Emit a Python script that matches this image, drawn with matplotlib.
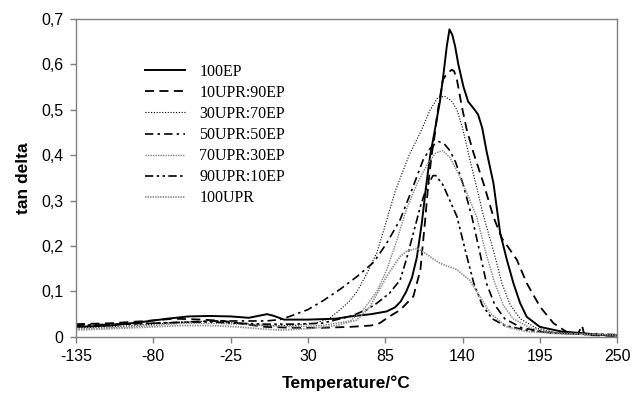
import matplotlib
matplotlib.use("Agg")
import matplotlib.pyplot as plt
from matplotlib.ticker import FuncFormatter

plt.rcParams["axes.unicode_minus"] = False


# ---------------------------------------
# DMA DATA - tan delta vs temperature
# ---------------------------------------
labels = ["100EP", "10UPR:90EP", "30UPR:70EP", "50UPR:50EP",
          "70UPR:30EP", "90UPR:10EP", "100UPR"]

t_100ep = [-135, -110, -90, -70, -55, -40, -25, -12, -4, 1, 6, 13, 30, 50, 60,
           75, 86, 92, 96, 100, 104, 107.5, 111, 114, 117, 120, 122, 124, 126.5,
           128.8, 130.7, 132.7, 134.7, 137, 140.7, 144, 147.6, 151, 154, 157,
           162, 166.8, 171.5, 176.2, 181, 185.7, 195, 210, 226, 240, 250]
v_100ep = [0.022, 0.025, 0.032, 0.040, 0.045, 0.046, 0.045, 0.042, 0.047, 0.050,
           0.046, 0.038, 0.038, 0.040, 0.045, 0.050, 0.056, 0.065, 0.078, 0.100,
           0.130, 0.175, 0.250, 0.330, 0.400, 0.450, 0.485, 0.520, 0.580, 0.640,
           0.677, 0.665, 0.640, 0.600, 0.550, 0.518, 0.504, 0.490, 0.460, 0.410,
           0.338, 0.228, 0.170, 0.118, 0.074, 0.044, 0.022, 0.012, 0.008, 0.004,
           0.003]

t_10upr = [-135, -110, -85, -65, -45, -30, -15, 0, 20, 40, 60, 75, 81, 88, 95.6,
           105, 110, 113.4, 115.7, 118, 120.5, 122, 126, 129, 132.3, 134, 136,
           139.5, 143, 147.8, 154.9, 162, 168, 173, 178.6, 185.7, 195.2, 204.7,
           214, 222, 225, 226.5, 228, 240, 250]
v_10upr = [0.028, 0.030, 0.035, 0.040, 0.038, 0.035, 0.028, 0.022, 0.020, 0.020,
           0.022, 0.025, 0.030, 0.045, 0.059, 0.089, 0.147, 0.257, 0.338, 0.400,
           0.450, 0.490, 0.566, 0.580, 0.588, 0.585, 0.566, 0.507, 0.456, 0.405,
           0.338, 0.264, 0.217, 0.195, 0.170, 0.118, 0.066, 0.030, 0.011, 0.006,
           0.025, 0.006, 0.004, 0.003, 0.002]

t_30upr = [-135, -110, -80, -60, -40, -20, 0, 20, 35, 45, 53, 60, 65, 72, 79, 84,
           92, 102, 110, 117, 122, 127, 132, 136, 140, 146, 150, 155, 162, 168,
           174, 181, 192, 205, 220, 250]
v_30upr = [0.020, 0.022, 0.028, 0.032, 0.035, 0.030, 0.025, 0.025, 0.030, 0.040,
           0.060, 0.080, 0.100, 0.140, 0.185, 0.235, 0.320, 0.400, 0.450, 0.500,
           0.525, 0.530, 0.520, 0.500, 0.460, 0.380, 0.330, 0.265, 0.190, 0.118,
           0.070, 0.040, 0.020, 0.010, 0.006, 0.003]

t_50upr = [-135, -110, -80, -60, -40, -20, 0, 10, 17, 30, 41, 53, 65, 77, 86,
           95.6, 104, 112, 117, 120.5, 123, 127, 131, 135, 140, 146.6, 152, 157,
           163, 170, 182, 200, 230, 250]
v_50upr = [0.025, 0.028, 0.030, 0.032, 0.035, 0.035, 0.035, 0.038, 0.045, 0.060,
           0.080, 0.105, 0.133, 0.165, 0.206, 0.258, 0.324, 0.390, 0.415, 0.425,
           0.430, 0.425, 0.410, 0.385, 0.340, 0.265, 0.190, 0.118, 0.070, 0.040,
           0.020, 0.010, 0.005, 0.003]

t_70upr = [-135, -110, -80, -60, -40, -20, 0, 20, 40, 60, 69, 79, 86, 93, 100,
           108, 115, 121, 126, 131, 137, 144, 150, 157, 163, 169, 176, 188, 205,
           250]
v_70upr = [0.018, 0.020, 0.025, 0.030, 0.030, 0.028, 0.025, 0.022, 0.025, 0.035,
           0.058, 0.100, 0.147, 0.210, 0.280, 0.340, 0.380, 0.405, 0.410, 0.395,
           0.360, 0.310, 0.265, 0.180, 0.118, 0.070, 0.040, 0.020, 0.010, 0.004]

t_90upr = [-135, -110, -80, -60, -40, -20, 0, 20, 40, 60, 72, 79, 88, 95.6, 100,
           105, 110, 114.5, 119, 121, 126, 131, 136, 142, 148, 154, 161, 170,
           185, 205, 250]
v_90upr = [0.025, 0.027, 0.030, 0.032, 0.033, 0.030, 0.028, 0.028, 0.030, 0.045,
           0.060, 0.074, 0.096, 0.125, 0.170, 0.228, 0.287, 0.330, 0.355, 0.355,
           0.335, 0.300, 0.265, 0.190, 0.118, 0.070, 0.040, 0.025, 0.015, 0.008,
           0.005]

t_100upr = [-135, -110, -80, -60, -40, -20, -5, 10, 30, 50, 64.7, 74, 86, 95.6,
            100, 107.5, 113, 120, 124, 136, 140.6, 145, 152.5, 159.7, 171.5, 185,
            210, 250]
v_100upr = [0.015, 0.018, 0.022, 0.025, 0.025, 0.022, 0.018, 0.015, 0.018, 0.025,
            0.037, 0.066, 0.133, 0.177, 0.188, 0.195, 0.185, 0.170, 0.162, 0.148,
            0.136, 0.125, 0.088, 0.052, 0.022, 0.012, 0.007, 0.004]

x_ticks = [-135, -80, -25, 30, 85, 140, 195, 250]
y_ticks = [0, 0.1, 0.2, 0.3, 0.4, 0.5, 0.6, 0.7]


# ---------------------------------------
# PLOT
# ---------------------------------------
fig = plt.figure(figsize=(6.33, 3.94), dpi=100)
ax = fig.add_axes([0.12, 0.145, 0.855, 0.807])

ax.plot(t_100ep, v_100ep, color="black", lw=1.4, ls="-", label=labels[0])
ax.plot(t_10upr, v_10upr, color="black", lw=1.3, ls=(0, (5, 3)), label=labels[1])
ax.plot(t_30upr, v_30upr, color="black", lw=0.8, ls=(0, (1, 1.5)), label=labels[2])
ax.plot(t_50upr, v_50upr, color="black", lw=1.2, ls=(0, (5, 2.5, 1.5, 2.5)), label=labels[3])
ax.plot(t_70upr, v_70upr, color="#808080", lw=1.0, ls=(0, (1, 0.8)), label=labels[4])
ax.plot(t_90upr, v_90upr, color="black", lw=1.2, ls=(0, (5, 2, 1.5, 2, 1.5, 2)), label=labels[5])
ax.plot(t_100upr, v_100upr, color="#909090", lw=1.3, ls=(0, (0.8, 0.6)), label=labels[6])

ax.set_xlim(-135, 250)
ax.set_ylim(0, 0.7)
ax.set_xticks(x_ticks)
ax.set_yticks(y_ticks)
ax.yaxis.set_major_formatter(
    FuncFormatter(lambda v, p: "0" if v == 0 else f"{v:.1f}".replace(".", ","))
)

for s in ax.spines.values():
    s.set_color("#808080")
    s.set_linewidth(1.0)
ax.tick_params(direction="out", length=4, color="#808080", width=1,
               labelsize=11.5, pad=5)
for lab in ax.get_xticklabels() + ax.get_yticklabels():
    lab.set_family("Liberation Sans")

ax.set_xlabel("Temperature/°C", fontsize=12.5, fontweight="bold",
              family="Liberation Sans", labelpad=8)
ax.set_ylabel("tan delta", fontsize=12.5, fontweight="bold",
              family="Liberation Sans", labelpad=7)

ax.legend(loc="upper left", bbox_to_anchor=(0.113, 0.884), frameon=False,
          borderpad=0, handlelength=2.5, handletextpad=0.9, labelspacing=0.32,
          prop={"family": "Liberation Serif", "size": 11.5})

plt.savefig("out.png", dpi=100)
